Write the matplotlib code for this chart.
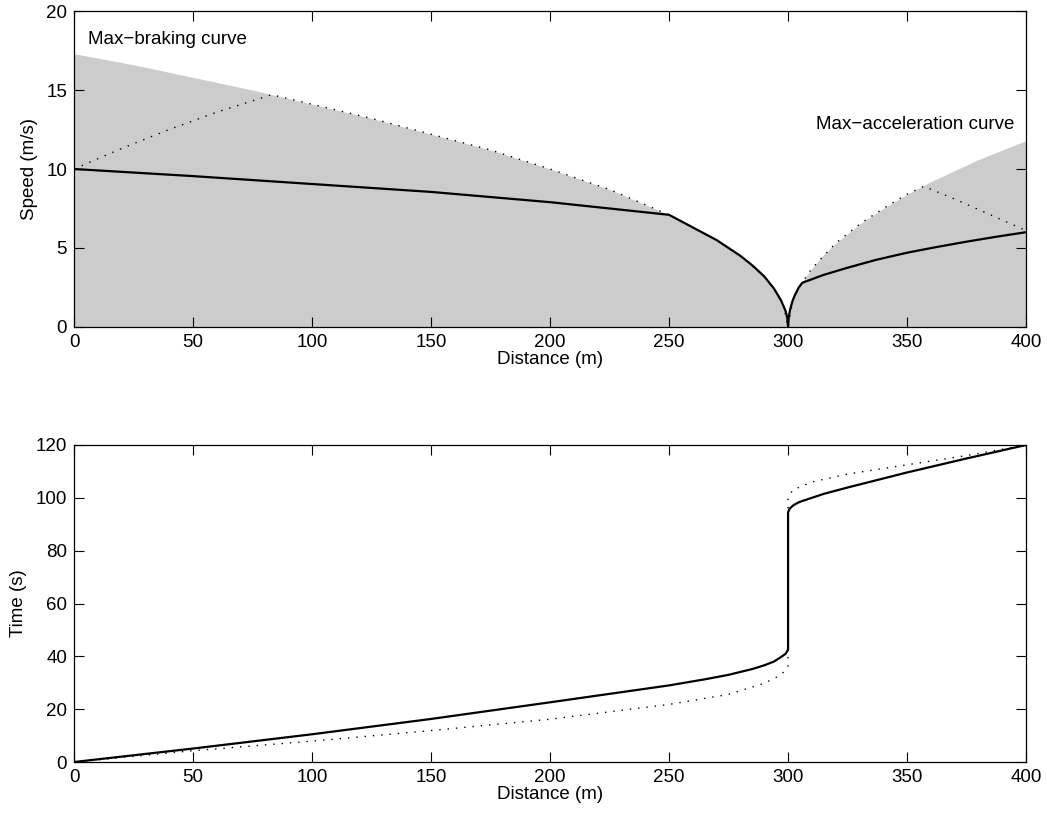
import matplotlib
matplotlib.use("Agg")
import matplotlib.pyplot as plt

plt.rcParams["font.family"] = ["Liberation Sans", "DejaVu Sans"]
plt.rcParams["font.size"] = 13.5

# ---- speed limits (gray envelope) ----
brake_x = [0, 25, 50, 75, 100, 125, 150, 175, 200, 225, 250, 255, 260, 265, 270, 275, 280, 285, 290, 294, 297, 299, 299.7, 300]
brake_v = [17.3, 16.6, 15.8, 15.0, 14.1, 13.2, 12.2, 11.2, 10.0, 8.7, 7.1, 6.7, 6.3, 5.9, 5.5, 5.0, 4.5, 3.9, 3.2, 2.45, 1.7, 1.0, 0.55, 0.0]
accel_x = [300, 300.3, 301, 302, 303, 305, 307, 310, 315, 320, 330, 340, 350, 360, 370, 380, 390, 400]
accel_v = [0.0, 0.65, 1.18, 1.7, 2.05, 2.6, 3.1, 3.7, 4.6, 5.3, 6.5, 7.5, 8.4, 9.2, 9.9, 10.6, 11.2, 11.8]

# ---- solid speed profile ----
solid_x = [0, 50, 100, 150, 200, 250, 255, 260, 265, 270, 275, 280, 285, 290, 294, 297, 299, 299.7, 300,
           300.3, 301, 302, 303, 304.5, 306, 315, 325, 337, 350, 362, 375, 387, 400]
solid_v = [10.0, 9.55, 9.05, 8.55, 7.9, 7.1, 6.7, 6.3, 5.9, 5.5, 5.0, 4.5, 3.9, 3.2, 2.45, 1.7, 1.0, 0.55, 0.0,
           0.65, 1.18, 1.7, 2.05, 2.5, 2.8, 3.3, 3.75, 4.25, 4.7, 5.05, 5.4, 5.7, 6.0]

# ---- dotted speed profile ----
dot_x = [0, 20, 40, 60, 83, 100, 125, 150, 175, 200, 225, 250, 270, 280, 290, 295, 298, 300,
         302, 305, 310, 320, 330, 340, 350, 357, 370, 385, 400]
dot_v = [10.0, 11.3, 12.5, 13.6, 14.7, 14.1, 13.2, 12.2, 11.2, 10.0, 8.7, 7.1, 5.5, 4.5, 3.2, 2.2, 1.4, 0.0,
         1.7, 2.6, 3.7, 5.3, 6.5, 7.5, 8.4, 8.9, 8.1, 7.1, 6.1]

# ---- time vs distance ----
tsolid_x = [0, 50, 100, 150, 200, 250, 265, 275, 285, 290, 294, 297, 299, 300, 300, 300.5, 301, 302, 303, 304.5, 306,
            315, 325, 350, 375, 400]
tsolid_t = [0, 5.1, 10.5, 16.3, 22.6, 29.0, 31.3, 33.0, 35.2, 36.6, 38.0, 39.7, 41.0, 42.5, 94.5, 95.6, 96.2, 97.0,
            97.6, 98.3, 98.8, 101.5, 103.9, 109.6, 114.9, 120]
tdot_x = [0, 50, 100, 150, 200, 250, 275, 290, 296, 299, 300, 300, 302, 310, 325, 350, 357, 375, 400]
tdot_t = [0, 4.3, 7.9, 11.9, 16.2, 21.8, 25.6, 29.8, 32.5, 34.6, 36.5, 100.0, 103.0, 106.0, 109.0, 112.5, 113.5, 116.0, 120]

xticks = [0, 50, 100, 150, 200, 250, 300, 350, 400]

fig = plt.figure(figsize=(10.47, 8.23), dpi=100)
ax1 = fig.add_axes([0.0707, 0.6027, 0.9093, 0.3839])
ax2 = fig.add_axes([0.0707, 0.0741, 0.9093, 0.3852])

gray = "#cccccc"
ax1.fill_between(brake_x, 0, brake_v, color=gray, lw=0)
ax1.fill_between(accel_x, 0, accel_v, color=gray, lw=0)
ax1.plot(dot_x, dot_v, color="k", lw=1.0, ls=(0, (1, 5)))
ax1.plot(solid_x, solid_v, color="k", lw=1.6)
ax1.text(6, 18.2, "Max\u2212braking curve", fontsize=13.5, va="center", ha="left")
ax1.text(395, 12.8, "Max\u2212acceleration curve", fontsize=13.5, va="center", ha="right")
ax1.set_xlim(0, 400)
ax1.set_ylim(0, 20)
ax1.set_yticks([0, 5, 10, 15, 20])
ax1.set_ylabel("Speed (m/s)", labelpad=6)
ax1.set_xlabel("Distance (m)", labelpad=0)

ax2.plot(tdot_x, tdot_t, color="k", lw=1.0, ls=(0, (1, 5)))
ax2.plot(tsolid_x, tsolid_t, color="k", lw=1.6)
ax2.set_xlim(0, 400)
ax2.set_ylim(0, 120)
ax2.set_yticks([0, 20, 40, 60, 80, 100, 120])
ax2.set_ylabel("Time (s)", labelpad=6)
ax2.set_xlabel("Distance (m)", labelpad=0)

for ax in (ax1, ax2):
    ax.set_xticks(xticks)
    ax.tick_params(direction="in", top=True, right=True, length=7, width=0.8, labelsize=13.5, pad=5)
    for s in ax.spines.values():
        s.set_linewidth(0.9)
    ax.set_axisbelow(False)

fig.savefig("out.png", dpi=100)
